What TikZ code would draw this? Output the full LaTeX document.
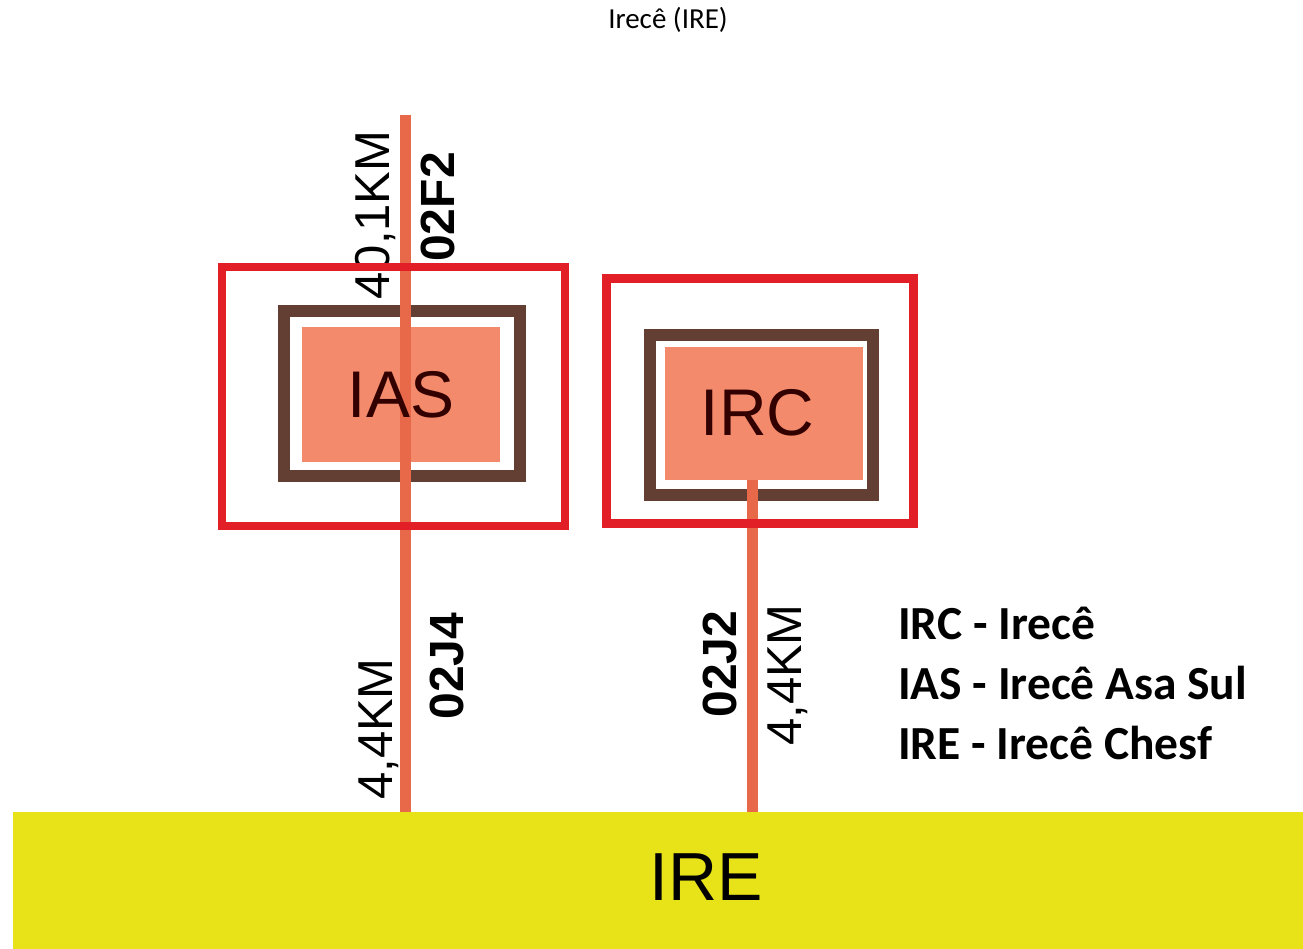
\documentclass[tikz,border=0pt]{standalone}
\usepackage{fontspec}
\newfontfamily\arialf{Liberation Sans}
\newfontfamily\calf{Carlito}
\definecolor{cred}{HTML}{E21F26}
\definecolor{cbrown}{HTML}{633F33}
\definecolor{csalmon}{HTML}{F38A6B}
\definecolor{cline}{HTML}{E8694A}
\definecolor{cyellow}{HTML}{E7E318}
\tikzset{
  lbl/.style={rotate=90, inner sep=0pt, text depth=0pt, font=\arialf\fontsize{49}{49}\selectfont},
  lblb/.style={rotate=90, inner sep=0pt, text depth=0pt, font=\arialf\bfseries\fontsize{48}{48}\selectfont},
  redframe/.style={draw=cred, line width=8.5pt, inner sep=0pt},
  brownframe/.style={draw=cbrown, line width=12.5pt, inner sep=0pt},
  subst/.style={fill=csalmon, inner sep=0pt},
  boxtext/.style={inner sep=0pt, text depth=0pt, text=black!80!red, font=\arialf\fontsize{66}{66}\selectfont},
  feeder/.style={draw=cline, line width=11pt},
  legend/.style={anchor=base west, inner sep=0pt, font=\calf\bfseries\fontsize{47.5}{47.5}\selectfont},
}
\begin{document}
\begin{tikzpicture}[x=1pt,y=-1pt]
\useasboundingbox (0,0) rectangle (1303,949);
% title
\node[anchor=base, inner sep=0pt, font=\calf\fontsize{29}{29}\selectfont] (title) at (668,29) {Irecê (IRE)};
% IRE bar
\node[fill=cyellow, inner sep=0pt, minimum width=1290pt, minimum height=137pt] (ire) at (658,880.5) {};
\node[inner sep=0pt, text depth=0pt, font=\arialf\fontsize{68}{68}\selectfont] (iretext) at (706,877.5) {IRE};
% labels
\node[lbl]  (l401) at (372,215) {40,1KM};
\node[lblb] (l02f2) at (438,207) {02F2};
\node[lbl]  (l44a) at (376,729) {4,4KM};
\node[lblb] (l02j4) at (447,666) {02J4};
\node[lblb] (l02j2) at (720,664) {02J2};
\node[lbl]  (l44b) at (785,675) {4,4KM};
% IAS
\node[brownframe, minimum width=236pt, minimum height=165pt] (iasframe) at (402,393.5) {};
\node[subst, minimum width=198pt, minimum height=135pt] (ias) at (401,394.5) {};
% IRC
\node[brownframe, minimum width=223pt, minimum height=160pt] (ircframe) at (761.5,415) {};
\node[subst, minimum width=198pt, minimum height=133pt] (irc) at (764,413.5) {};
% feeders
\coordinate (iastop) at (405,115);
\coordinate (ircx) at (752,0);
\draw[feeder] (iastop) -- (iastop |- ire.north);
\draw[feeder] (irc.south -| ircx) -- (ircx |- ire.north);
% red enclosures
\node[redframe, minimum width=343pt, minimum height=259pt] (iasouter) at (393.5,396.5) {};
\node[redframe, minimum width=307pt, minimum height=245pt] (ircouter) at (760,401) {};
% box texts
\node[boxtext] (iastext) at (401,394) {IAS};
\node[boxtext] (irctext) at (757.5,412.5) {IRC};
% legend
\node[legend] (leg1) at (898,639) {IRC - Irecê};
\node[legend] (leg2) at (898,699) {IAS - Irecê Asa Sul};
\node[legend] (leg3) at (898,759) {IRE - Irecê Chesf};
\end{tikzpicture}
\end{document}
